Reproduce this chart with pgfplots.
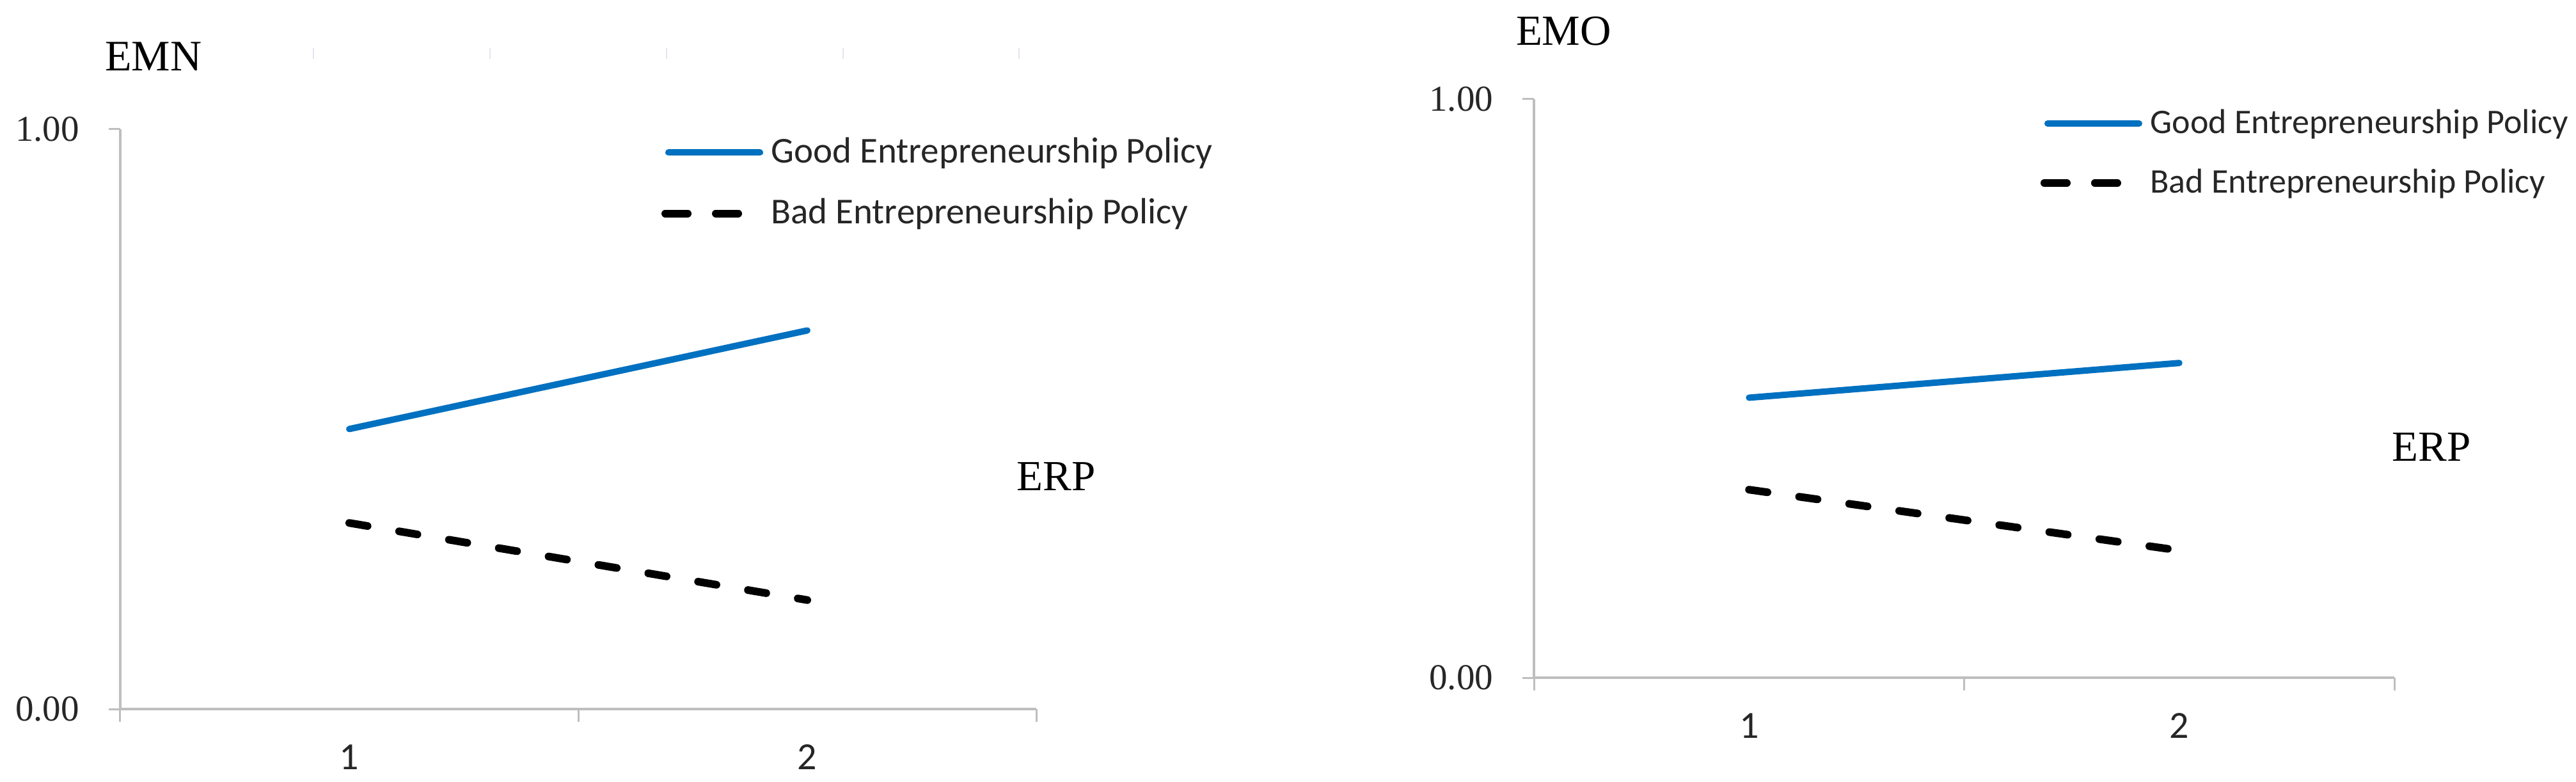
\documentclass[border=0pt]{standalone}
\usepackage{fontspec}
\setmainfont{Liberation Serif}
\newfontfamily\carl{Carlito}
\usepackage{pgfplots}
\pgfplotsset{compat=1.18}
\definecolor{goodblue}{RGB}{0,112,192}
\definecolor{axgray}{RGB}{190,190,190}
\definecolor{faint}{RGB}{225,230,240}

\pgfplotsset{
 panel/.style={
  scale only axis,
  axis lines=left,
  axis line style={axgray, line width=0.7pt, -},
  xmin=0.5, xmax=2.5, ymin=0, ymax=1,
  xtick={1,2}, xticklabels={1,2},
  minor xtick={0.5,1.5,2.5},
  major x tick style={draw=none},
  minor x tick style={axgray, line width=0.6pt},
  minor tick length=4pt,
  tick align=outside,
  ytick={0,1}, yticklabels={0.00,1.00},
  major y tick style={axgray, line width=0.6pt},
  major tick length=3.6pt,
  xticklabel style={font=\carl\fontsize{12pt}{12pt}\selectfont, text=black!85, anchor=north, inner sep=0pt, yshift=-7.4pt},
  yticklabel style={font=\fontsize{11.4pt}{11.4pt}\selectfont, text=black!85, anchor=east, inner sep=0pt, xshift=-9pt},
  clip=false,
  legend style={draw=none, fill=none, inner sep=0pt, outer sep=0pt,
     font=\carl\fontsize{11.4pt}{11.4pt}\selectfont,
     nodes={inner xsep=1.3pt, inner ysep=0pt, text=black!85},
     row sep=9.6pt, column sep=0pt},
  legend cell align=left,
 },
 goodline/.style={goodblue, line width=2pt, line cap=round,
   legend image code/.code={\draw[##1] (1pt,0pt) -- (29.6pt,0pt);}},
 badline/.style={black, line width=2.4pt, line cap=round, dash pattern=on 5.8pt off 10pt,
   legend image code/.code={\path (0pt,0pt) -- (30.6pt,0pt);\draw[##1] (1.2pt,0pt) -- (23pt,0pt);}},
}

\begin{document}
\begin{tikzpicture}[x=1pt,y=1pt]
\path[use as bounding box] (0,0) rectangle (805.4,244.2);

% faint stubs at the top of the left panel
\foreach \xx in {490,766,1042,1318,1593}{
  \draw[faint, line width=0.5pt] (\xx*0.2,229.2) -- (\xx*0.2,225.8);
}

\node[anchor=west, inner sep=0pt, font=\fontsize{13.6pt}{13.6pt}\selectfont] at (32.6,226.6) {EMN};
\node[anchor=west, inner sep=0pt, font=\fontsize{13.4pt}{13.4pt}\selectfont] at (473.8,234.4) {EMO};
\node[anchor=center, inner sep=0pt, font=\fontsize{13.4pt}{13.4pt}\selectfont] at (330.2,95.2) {ERP};
\node[anchor=center, inner sep=0pt, font=\fontsize{13.4pt}{13.4pt}\selectfont] at (760.2,104.4) {ERP};

\begin{axis}[panel, at={(37.6pt,22.6pt)}, anchor=south west,
  width=286.4pt, height=181.2pt,
  legend style={at={(0.5908,0.9073)}, anchor=west}]
\addplot[goodline] coordinates {(1,0.483) (2,0.653)};
\addlegendentry{Good Entrepreneurship Policy}
\addplot[badline] coordinates {(1,0.321) (2,0.188)};
\addlegendentry{Bad Entrepreneurship Policy}
\end{axis}

\begin{axis}[panel, at={(479.6pt,32.4pt)}, anchor=south west,
  width=269pt, height=180.8pt,
  legend style={at={(0.5888,0.9065)}, anchor=west, font=\carl\fontsize{10.8pt}{10.8pt}\selectfont}]
\addplot[goodline] coordinates {(1,0.484) (2,0.544)};
\addlegendentry{Good Entrepreneurship Policy}
\addplot[badline] coordinates {(1,0.325) (2,0.220)};
\addlegendentry{Bad Entrepreneurship Policy}
\end{axis}
\end{tikzpicture}
\end{document}
